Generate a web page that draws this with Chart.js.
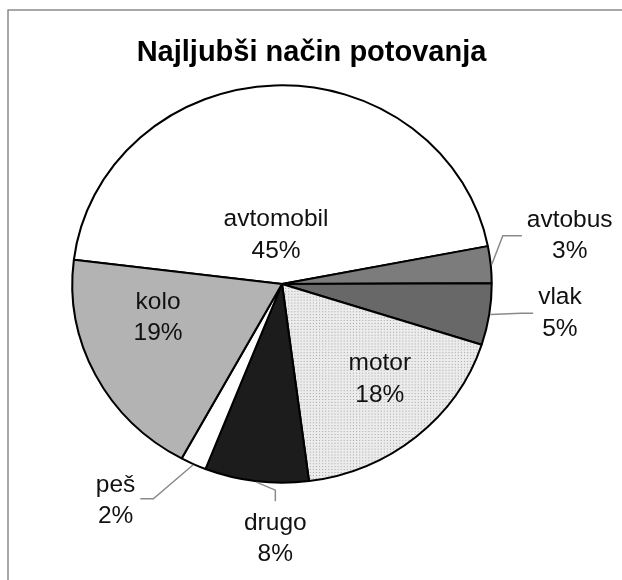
<!DOCTYPE html>
<html><head><meta charset="utf-8">
<script src="https://cdn.jsdelivr.net/npm/chart.js@4.4.0/dist/chart.umd.min.js"></script>
<style>html,body{margin:0;padding:0;background:#fff;overflow:hidden}#wrap{position:relative;width:622px;height:580px}</style>
</head><body><div id="wrap"><canvas id="c" width="622" height="580"></canvas></div>
<script>
// ---- data ----
const chartTitle = 'Najljubši način potovanja';
const categories = ['avtomobil', 'avtobus', 'vlak', 'motor', 'drugo', 'peš', 'kolo'];
const shares = [45, 3, 5, 18, 8, 2, 19];
const percentLabels = ['45%', '3%', '5%', '18%', '8%', '2%', '19%'];

// ---- styling (not data) ----
const canvas = document.getElementById('c');
const ctx0 = canvas.getContext('2d');
function dotPattern() {
  const p = document.createElement('canvas');
  p.width = 3; p.height = 3;
  const g = p.getContext('2d');
  g.fillStyle = '#ececec'; g.fillRect(0, 0, 3, 3);
  g.fillStyle = '#a6a6a6'; g.fillRect(0, 0, 1, 1);
  return ctx0.createPattern(p, 'repeat');
}
const fills = ['#ffffff', '#7c7c7c', '#686868', dotPattern(), '#1c1c1c', '#ffffff', '#b3b3b3'];
// the reference pie is slightly wider than tall
const STRETCH_X = 1.028, STRETCH_Y = 0.974;
// label placement relative to each slice: f = fraction of radius, d = angle shift (deg, clockwise)
const placement = [
  {f: 0.24, d: -5},
  {f: 1.43, d: -3.9, side: 'right', elbow: 19},
  {f: 1.37, d: -2.8, side: 'right', elbow: 12},
  {f: 0.67, d: -5.9},
  {f: 1.25, d: -5.5, side: 'bottom', elbow: 11},
  {f: 1.34, d: 12.5, side: 'left', elbow: 13},
  {f: 0.63, d: 11.9}
];
const FONT = '24.5px "Liberation Sans", Arial, sans-serif';
const LINE = 31.5;

function pieCenter(chart) {
  const a = chart.getDatasetMeta(0).data[0];
  return a ? {x: a.x, y: a.y} : {x: 0, y: 0};
}

const framePlugin = {
  id: 'frame',
  beforeDraw(chart) {
    const c = chart.ctx;
    c.save();
    c.strokeStyle = '#8c8c8c'; c.lineWidth = 1.5;
    c.beginPath(); c.moveTo(8, 580); c.lineTo(8, 10); c.lineTo(622, 10); c.stroke();
    c.fillStyle = '#000';
    c.font = 'bold 29px "Liberation Sans", Arial, sans-serif';
    c.textAlign = 'center'; c.textBaseline = 'alphabetic';
    c.fillText(chartTitle, 311.5, 61);
    c.restore();
  },
  beforeDatasetsDraw(chart) {
    const c = chart.ctx, o = pieCenter(chart);
    c.save();
    c.translate(o.x, o.y); c.scale(STRETCH_X, STRETCH_Y); c.translate(-o.x, -o.y);
  },
  afterDatasetsDraw(chart) {
    chart.ctx.restore();
  }
};

const labelPlugin = {
  id: 'sliceLabels',
  afterDatasetsDraw(chart) {
    const c = chart.ctx;
    const meta = chart.getDatasetMeta(0);
    c.save();
    c.font = FONT;
    c.textAlign = 'center'; c.textBaseline = 'middle';
    meta.data.forEach((arc, i) => {
      const p = arc.getProps(['x', 'y', 'startAngle', 'endAngle', 'outerRadius'], true);
      const mid = (p.startAngle + p.endAngle) / 2;
      const pl = placement[i];
      const a = mid + pl.d * Math.PI / 180;
      const lx = p.x + Math.cos(a) * p.outerRadius * pl.f;
      const ly = p.y + Math.sin(a) * p.outerRadius * pl.f;
      const t1 = categories[i], t2 = percentLabels[i];
      const w = Math.max(c.measureText(t1).width, c.measureText(t2).width);
      if (pl.side) {
        const sx = p.x + Math.cos(mid) * (p.outerRadius + 1) * STRETCH_X;
        const sy = p.y + Math.sin(mid) * (p.outerRadius + 1) * STRETCH_Y;
        let ax, ay, bx, by;
        if (pl.side === 'right') { ax = lx - w / 2 - 5; ay = ly; bx = ax - pl.elbow; by = ay; }
        else if (pl.side === 'left') { ax = lx + w / 2 + 5; ay = ly - 2; bx = ax + pl.elbow; by = ay; }
        else { ax = lx; ay = ly - LINE / 2 - 22; bx = ax; by = ay - pl.elbow; }
        c.strokeStyle = '#8a8a8a'; c.lineWidth = 1.5;
        c.beginPath(); c.moveTo(sx, sy); c.lineTo(bx, by); c.lineTo(ax, ay); c.stroke();
      }
      c.fillStyle = '#111';
      c.fillText(t1, lx, ly - LINE / 2);
      c.fillText(t2, lx, ly + LINE / 2);
    });
    c.restore();
  }
};

new Chart(canvas, {
  type: 'pie',
  data: {
    labels: categories,
    datasets: [{
      data: shares,
      backgroundColor: fills,
      borderColor: '#000',
      borderWidth: 2,
      hoverOffset: 0,
      radius: 204
    }]
  },
  options: {
    responsive: false,
    animation: false,
    rotation: -83,
    layout: {padding: {left: 72, right: 130, top: 80, bottom: 92}},
    plugins: {legend: {display: false}, tooltip: {enabled: false}, title: {display: false}}
  },
  plugins: [framePlugin, labelPlugin]
});
</script>
</body></html>
